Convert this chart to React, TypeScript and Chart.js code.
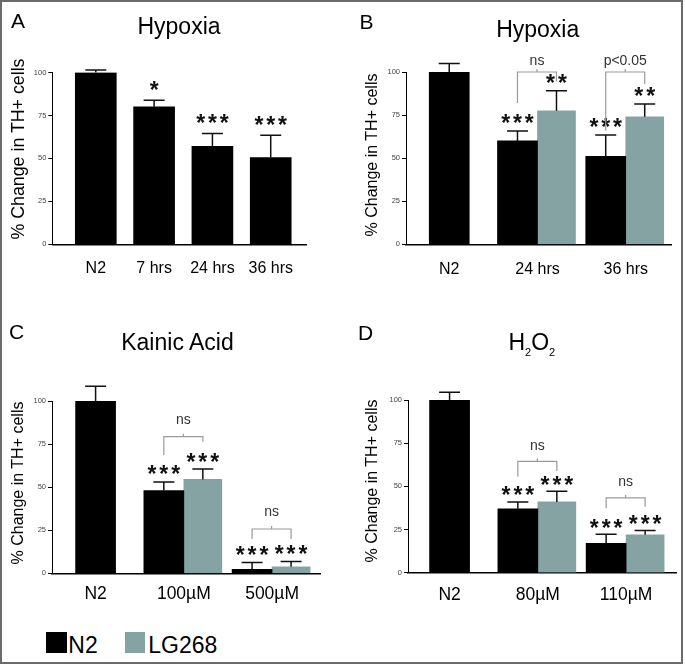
import React, { useEffect, useRef } from 'react';
import { Chart, registerables } from 'chart.js';

Chart.register(...registerables);

const FONT = "'Liberation Sans', Arial, Helvetica, sans-serif";
const N2_COLOR = '#000000';
const LG_COLOR = '#86a3a3';

// ---------- Panel A : Hypoxia (N2 only) ----------
const catsA = ['N2', '7 hrs', '24 hrs', '36 hrs'];
const n2A = [100, 80, 57, 50.5];
const n2ErrA = [1.5, 3.8, 7.5, 13];
const n2StarsA = ['', '*', '***', '***'];

// ---------- Panel B : Hypoxia ----------
const catsB = ['N2', '24 hrs', '36 hrs'];
const n2B = [100, 60, 51];
const n2ErrB = [5, 5.8, 12.4];
const n2StarsB = ['', '***', '***'];
const lgB = [null, 77.5, 74];
const lgErrB = [null, 11.6, 7.4];
const lgStarsB = ['', '**', '**'];
const bracketsB = [
  { group: 1, text: 'ns', level: 100, leftEnd: 82, rightEnd: 94.5 },
  { group: 2, text: 'p<0.05', level: 100, leftEnd: 66, rightEnd: 93 },
];

// ---------- Panel C : Kainic Acid ----------
const catsC = ['N2', '100µM', '500µM'];
const n2C = [100, 48, 2.3];
const n2ErrC = [8.5, 5, 4];
const n2StarsC = ['', '***', '***'];
const lgC = [null, 54.5, 3.8];
const lgErrC = [null, 6, 3];
const lgStarsC = ['', '***', '***'];
const bracketsC = [
  { group: 1, text: 'ns', level: 79.3, leftEnd: 68.7, rightEnd: 76.4 },
  { group: 2, text: 'ns', level: 25.7, leftEnd: 19.9, rightEnd: 19.9 },
];

// ---------- Panel D : H2O2 ----------
const catsD = ['N2', '80µM', '110µM'];
const n2D = [100, 37, 17];
const n2ErrD = [4.5, 4, 5.2];
const n2StarsD = ['', '***', '***'];
const lgD = [null, 41, 22];
const lgErrD = [null, 6.1, 2.5];
const lgStarsD = ['', '***', '***'];
const bracketsD = [
  { group: 1, text: 'ns', level: 64.5, leftEnd: 55.6, rightEnd: 58.9 },
  { group: 2, text: 'ns', level: 43.3, leftEnd: 37.3, rightEnd: 38.2 },
];

const yTicks = [0, 25, 50, 75, 100];

type Series = {
  label: string;
  values: (number | null)[];
  errors: (number | null)[];
  stars: string[];
  color: string;
  thickness: number;
};
type Bracket = { group: number; text: string; level: number; leftEnd: number; rightEnd: number };
type PanelSpec = {
  id: string;
  left: number; top: number; width: number; height: number;
  padding: { left: number; right: number; top: number; bottom: number };
  xMin: number; xMax: number;
  categories: string[];
  series: Series[];
  brackets: Bracket[];
  starGap: number;
  labelGap: number;
  xFont: number;
  xPad: number;
};

function drawStars(ctx: CanvasRenderingContext2D, stars: string, cx: number, cy: number) {
  ctx.font = `bold 23px ${FONT}`;
  ctx.fillStyle = '#111';
  ctx.textAlign = 'center';
  ctx.textBaseline = 'alphabetic';
  const m = ctx.measureText('*');
  const base = cy + (m.actualBoundingBoxAscent - m.actualBoundingBoxDescent) / 2;
  const n = stars.length;
  for (let k = 0; k < n; k++) {
    ctx.fillText('*', cx + (k - (n - 1) / 2) * 11.8, base);
  }
}

function annotationPlugin(spec: PanelSpec) {
  return {
    id: 'annot_' + spec.id,
    afterDraw(chart: any) {
      const ctx: CanvasRenderingContext2D = chart.ctx;
      const yScale = chart.scales.y;
      ctx.save();
      spec.series.forEach((s, di) => {
        const meta = chart.getDatasetMeta(di);
        s.values.forEach((v, i) => {
          if (v === null || v === undefined) return;
          const el: any = meta.data[i];
          if (!el) return;
          const err = s.errors[i] ?? 0;
          const yTop = yScale.getPixelForValue(v + err);
          const yBar = yScale.getPixelForValue(v);
          ctx.strokeStyle = '#111';
          ctx.lineWidth = 1.5;
          ctx.beginPath();
          ctx.moveTo(el.x, yBar);
          ctx.lineTo(el.x, yTop);
          ctx.moveTo(el.x - 10.5, yTop);
          ctx.lineTo(el.x + 10.5, yTop);
          ctx.stroke();
          const st = s.stars[i];
          if (st) drawStars(ctx, st, el.x, yTop - spec.starGap);
        });
      });
      if (spec.brackets.length && spec.series.length > 1) {
        const m0 = chart.getDatasetMeta(0);
        const m1 = chart.getDatasetMeta(1);
        spec.brackets.forEach((b) => {
          const e0: any = m0.data[b.group];
          const e1: any = m1.data[b.group];
          if (!e0 || !e1) return;
          const lx = e0.x;
          const rx = e1.x;
          const mx = (lx + rx) / 2;
          const yl = yScale.getPixelForValue(b.level);
          ctx.strokeStyle = '#9a9a9a';
          ctx.lineWidth = 1.2;
          ctx.beginPath();
          ctx.moveTo(lx, yScale.getPixelForValue(b.leftEnd));
          ctx.lineTo(lx, yl);
          ctx.lineTo(rx, yl);
          ctx.lineTo(rx, yScale.getPixelForValue(b.rightEnd));
          ctx.moveTo(mx, yl);
          ctx.lineTo(mx, yl - 3);
          ctx.stroke();
          ctx.font = `14px ${FONT}`;
          ctx.fillStyle = '#333';
          ctx.textAlign = 'center';
          ctx.textBaseline = 'alphabetic';
          const m = ctx.measureText(b.text);
          const cy = yl - spec.labelGap;
          ctx.fillText(b.text, mx, cy + (m.actualBoundingBoxAscent - m.actualBoundingBoxDescent) / 2);
        });
      }
      ctx.restore();
    },
  };
}

function buildConfig(spec: PanelSpec): any {
  return {
    type: 'bar',
    data: {
      datasets: spec.series.map((s) => ({
        label: s.label,
        data: s.values.map((v, i) => ({ x: i, y: v })),
        backgroundColor: s.color,
        borderWidth: 0,
        barThickness: s.thickness,
        skipNull: true,
      })),
    },
    options: {
      responsive: false,
      animation: false,
      events: [],
      layout: { padding: spec.padding },
      plugins: {
        legend: { display: false },
        title: { display: false },
        tooltip: { enabled: false },
      },
      scales: {
        x: {
          type: 'linear',
          min: spec.xMin,
          max: spec.xMax,
          offset: false,
          grid: { display: false, drawTicks: false },
          border: { display: true, color: '#000', width: 1.6 },
          afterBuildTicks: (axis: any) => {
            axis.ticks = spec.categories.map((_, i) => ({ value: i }));
          },
          afterFit: (axis: any) => {
            axis.height = 40;
          },
          ticks: {
            autoSkip: false,
            maxRotation: 0,
            minRotation: 0,
            padding: spec.xPad,
            color: '#000',
            font: { family: FONT, size: spec.xFont },
            callback: (v: number) => spec.categories[v] ?? '',
          },
        },
        y: {
          type: 'linear',
          min: 0,
          max: 100,
          afterBuildTicks: (axis: any) => {
            axis.ticks = yTicks.map((t) => ({ value: t }));
          },
          afterFit: (axis: any) => {
            axis.width = 40;
          },
          ticks: {
            padding: 2,
            color: '#444',
            font: { family: FONT, size: 7.5 },
          },
          grid: { drawOnChartArea: false, drawTicks: true, tickLength: 4, color: '#000', lineWidth: 1 },
          border: { display: true, color: '#000', width: 1 },
        },
      },
    },
    plugins: [annotationPlugin(spec)],
  };
}

function Panel({ spec }: { spec: PanelSpec }) {
  const ref = useRef<HTMLCanvasElement>(null);
  useEffect(() => {
    const chart = new Chart(ref.current as HTMLCanvasElement, buildConfig(spec));
    return () => chart.destroy();
  }, []);
  return (
    <canvas
      ref={ref}
      width={spec.width}
      height={spec.height}
      style={{ position: 'absolute', left: spec.left, top: spec.top, width: spec.width, height: spec.height }}
    />
  );
}

const n2Series = (values: (number | null)[], errors: (number | null)[], stars: string[], thickness = 40): Series => ({
  label: 'N2', values, errors, stars, color: N2_COLOR, thickness,
});
const lgSeries = (values: (number | null)[], errors: (number | null)[], stars: string[]): Series => ({
  label: 'LG268', values, errors, stars, color: LG_COLOR, thickness: 38,
});

const panels: PanelSpec[] = [
  {
    id: 'A', left: 0, top: 0, width: 342, height: 300,
    padding: { left: 12.3, right: 35.3, top: 72.5, bottom: 15.7 },
    xMin: -0.746, xMax: 3.617,
    categories: catsA,
    series: [n2Series(n2A, n2ErrA, n2StarsA, 41)],
    brackets: [],
    starGap: 15, labelGap: 12, xFont: 16, xPad: 15,
  },
  {
    id: 'B', left: 342, top: 0, width: 343, height: 300,
    padding: { left: 24, right: 14, top: 72, bottom: 15.7 },
    xMin: -0.49, xMax: 2.513,
    categories: catsB,
    series: [n2Series(n2B, n2ErrB, n2StarsB), lgSeries(lgB, lgErrB, lgStarsB)],
    brackets: bracketsB,
    starGap: 12.5, labelGap: 11, xFont: 16, xPad: 16,
  },
  {
    id: 'C', left: 0, top: 300, width: 342, height: 320,
    padding: { left: 12, right: 22, top: 101, bottom: 6.7 },
    xMin: -0.494, xMax: 2.543,
    categories: catsC,
    series: [n2Series(n2C, n2ErrC, n2StarsC), lgSeries(lgC, lgErrC, lgStarsC)],
    brackets: bracketsC,
    starGap: 12, labelGap: 17, xFont: 17.5, xPad: 10,
  },
  {
    id: 'D', left: 342, top: 300, width: 343, height: 320,
    padding: { left: 26, right: 9, top: 100, bottom: 7.3 },
    xMin: -0.471, xMax: 2.565,
    categories: catsD,
    series: [n2Series(n2D, n2ErrD, n2StarsD), lgSeries(lgD, lgErrD, lgStarsD)],
    brackets: bracketsD,
    starGap: 11, labelGap: 15.5, xFont: 17.5, xPad: 12,
  },
];

function Text({ x, baseline, size, center, children }: { x: number; baseline: number; size: number; center?: boolean; children: React.ReactNode }) {
  return (
    <div
      style={{
        position: 'absolute',
        left: x,
        top: baseline - 0.8465 * size,
        fontFamily: FONT,
        fontSize: size,
        lineHeight: `${size}px`,
        whiteSpace: 'nowrap',
        color: '#000',
        transform: center ? 'translateX(-50%)' : undefined,
      }}
    >
      {children}
    </div>
  );
}

function YTitle({ cx, cy, size }: { cx: number; cy: number; size: number }) {
  return (
    <div
      style={{
        position: 'absolute',
        left: cx,
        top: cy,
        fontFamily: FONT,
        fontSize: size,
        lineHeight: `${size}px`,
        whiteSpace: 'nowrap',
        color: '#000',
        transform: 'translate(-50%, -50%) rotate(-90deg)',
      }}
    >
      % Change in TH+ cells
    </div>
  );
}

const sub: React.CSSProperties = { fontSize: 11, position: 'relative', top: 6, lineHeight: 0 };

export default function App() {
  return (
    <div style={{ position: 'absolute', left: 0, top: 0, width: 685, height: 665, background: '#fff', overflow: 'hidden' }}>
      {panels.map((p) => (
        <Panel key={p.id} spec={p} />
      ))}

      <Text x={11} baseline={28} size={21}>A</Text>
      <Text x={359.5} baseline={28.3} size={21}>B</Text>
      <Text x={9} baseline={338.3} size={21}>C</Text>
      <Text x={358} baseline={339.3} size={21}>D</Text>

      <Text x={179} baseline={34.5} size={23} center>Hypoxia</Text>
      <Text x={537.7} baseline={37} size={23} center>Hypoxia</Text>
      <Text x={177.5} baseline={350} size={23} center>Kainic Acid</Text>
      <Text x={531.8} baseline={350} size={23} center>
        H<span style={sub}>2</span>O<span style={sub}>2</span>
      </Text>

      <YTitle cx={19} cy={149} size={17.8} />
      <YTitle cx={371.5} cy={155} size={16} />
      <YTitle cx={17.5} cy={483.3} size={16} />
      <YTitle cx={372} cy={480.8} size={16} />

      <div style={{ position: 'absolute', left: 46, top: 632, width: 21, height: 21, background: N2_COLOR }} />
      <Text x={68.3} baseline={653} size={23}>N2</Text>
      <div style={{ position: 'absolute', left: 125, top: 632, width: 20, height: 21, background: LG_COLOR }} />
      <Text x={148.3} baseline={653} size={23}>LG268</Text>

      <div
        style={{
          position: 'absolute',
          left: 0,
          top: 0,
          width: 683,
          height: 664,
          border: '2px solid #6b6b6b',
          boxSizing: 'border-box',
          pointerEvents: 'none',
        }}
      />
    </div>
  );
}
